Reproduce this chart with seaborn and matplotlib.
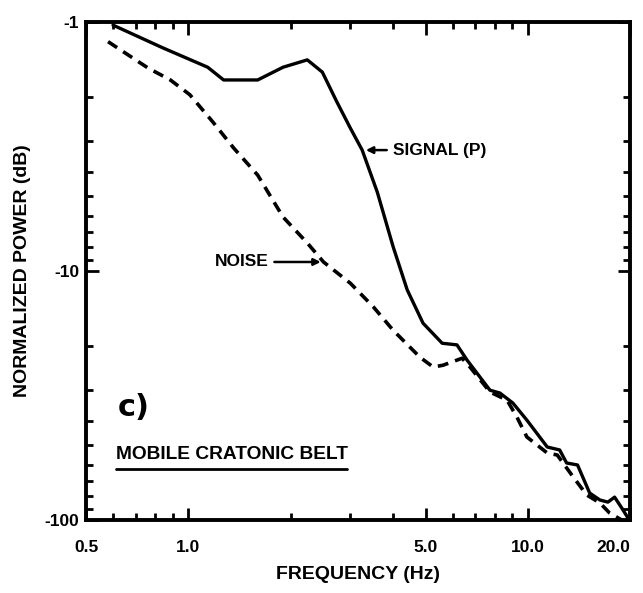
import numpy as np
import pandas as pd
import matplotlib
matplotlib.use("Agg")
import matplotlib.pyplot as plt
import seaborn as sns
from matplotlib.ticker import FixedLocator, LogLocator, FuncFormatter, NullFormatter

# signal (P) spectrum, normalized power in dB
signal_freq = [0.60, 0.84, 1.14, 1.27, 1.60, 1.90, 2.24, 2.48, 2.74, 3.00, 3.25, 3.60,
               4.01, 4.41, 4.91, 5.59, 6.18, 6.62, 7.73, 8.27, 9.03, 9.93, 11.4, 12.4,
               13.0, 14.0, 15.2, 16.3, 17.2, 18.0, 18.9, 19.7]
signal_db = [-1.03, -1.27, -1.52, -1.71, -1.71, -1.52, -1.42, -1.59, -2.10, -2.67, -3.27, -4.82,
             -8.0, -11.9, -16.2, -19.5, -19.8, -22.8, -30.1, -30.9, -33.9, -39.7, -50.9, -52.3,
             -59.0, -60.1, -77.9, -83.1, -84.7, -80.9, -89.5, -98.0]

# noise spectrum
noise_freq = [0.58, 0.76, 0.885, 1.01, 1.18, 1.36, 1.60, 1.90, 2.24, 2.50, 3.00, 3.50,
              4.01, 4.81, 5.26, 5.62, 6.40, 6.75, 7.73, 8.68, 9.28, 9.93, 11.4, 12.2,
              13.6, 14.9, 16.3, 17.4, 18.9]
noise_db = [-1.20, -1.53, -1.71, -1.96, -2.52, -3.21, -4.12, -6.07, -7.72, -9.2, -11.2, -13.9,
            -17.3, -22.2, -24.3, -23.9, -22.4, -24.3, -30.6, -33.0, -38.6, -46.4, -53.8, -54.8,
            -67.2, -79.3, -85.4, -93.7, -100.0]

x_ticks = [0.5, 1.0, 5.0, 10.0, 20.0]
x_ticklabels = ["0.5", "1.0", "5.0", "10.0", "20.0"]
y_ticks = [1, 10, 100]

sns.set_style("ticks")
plt.rcParams['font.family'] = ['Liberation Sans Narrow', 'Liberation Sans', 'DejaVu Sans']
plt.rcParams['font.weight'] = 'bold'
for k in ['text.color', 'axes.labelcolor', 'xtick.color', 'ytick.color', 'axes.edgecolor']:
    plt.rcParams[k] = 'black'

fig = plt.figure(figsize=(6.43, 5.93), dpi=100)
ax = fig.add_axes([0.134, 0.123, 0.846, 0.840])

sig = pd.DataFrame({"f": signal_freq, "p": np.abs(signal_db)})
noi = pd.DataFrame({"f": noise_freq, "p": np.abs(noise_db)})

sns.lineplot(data=sig, x="f", y="p", ax=ax, color="black", lw=2.4, estimator=None)
sns.lineplot(data=noi, x="f", y="p", ax=ax, color="black", lw=2.6, estimator=None,
             linestyle=(0, (3.0, 2.0)))

ax.set_xscale("log")
ax.set_yscale("log")
ax.set_xlim(0.5, 20)
ax.set_ylim(100, 1)

ax.xaxis.set_major_locator(FixedLocator(x_ticks))
ax.set_xticklabels(x_ticklabels)
ax.xaxis.set_minor_locator(LogLocator(base=10, subs=np.arange(2, 10)))
ax.xaxis.set_minor_formatter(NullFormatter())
ax.yaxis.set_major_locator(FixedLocator(y_ticks))
ax.yaxis.set_major_formatter(FuncFormatter(lambda v, _: f"-{int(v)}"))
ax.yaxis.set_minor_locator(LogLocator(base=10, subs=np.arange(2, 10)))
ax.yaxis.set_minor_formatter(NullFormatter())

ax.tick_params(which="both", direction="in", top=True, right=True, width=2, color="black")
ax.tick_params(which="major", length=9, labelsize=12.5)
ax.tick_params(axis="x", which="major", pad=14)
ax.tick_params(axis="y", which="major", pad=5)
ax.tick_params(which="minor", length=5)
for s in ax.spines.values():
    s.set_linewidth(2.8)
    s.set_color("black")

# last frequency label sits against the right edge, like the original
ax.get_xticklabels()[-1].set_horizontalalignment("right")

ax.set_xlabel("FREQUENCY (Hz)", fontsize=14, fontweight="bold", labelpad=8)
ax.set_ylabel("NORMALIZED POWER (dB)", fontsize=14, fontweight="bold", labelpad=10)

# annotations
ax.annotate("SIGNAL (P)", xy=(3.27, 3.27), xytext=(4.0, 3.27), fontsize=12.5, fontweight="bold",
            va="center", arrowprops=dict(arrowstyle="-|>", color="black", lw=1.8, mutation_scale=10))
ax.annotate("NOISE", xy=(2.5, 9.2), xytext=(1.72, 9.2), fontsize=12.5, fontweight="bold",
            va="center", ha="right",
            arrowprops=dict(arrowstyle="-|>", color="black", lw=1.8, mutation_scale=10))
ax.text(0.058, 0.225, "c)", transform=ax.transAxes, fontsize=22, fontweight="bold",
        family="DejaVu Sans", va="center")
ax.text(0.055, 0.132, "MOBILE CRATONIC BELT", transform=ax.transAxes, fontsize=13.8,
        fontweight="bold", va="center")
ax.plot([0.055, 0.48], [0.102, 0.102], transform=ax.transAxes, color="black", lw=2)

fig.savefig("out.png", dpi=100)
